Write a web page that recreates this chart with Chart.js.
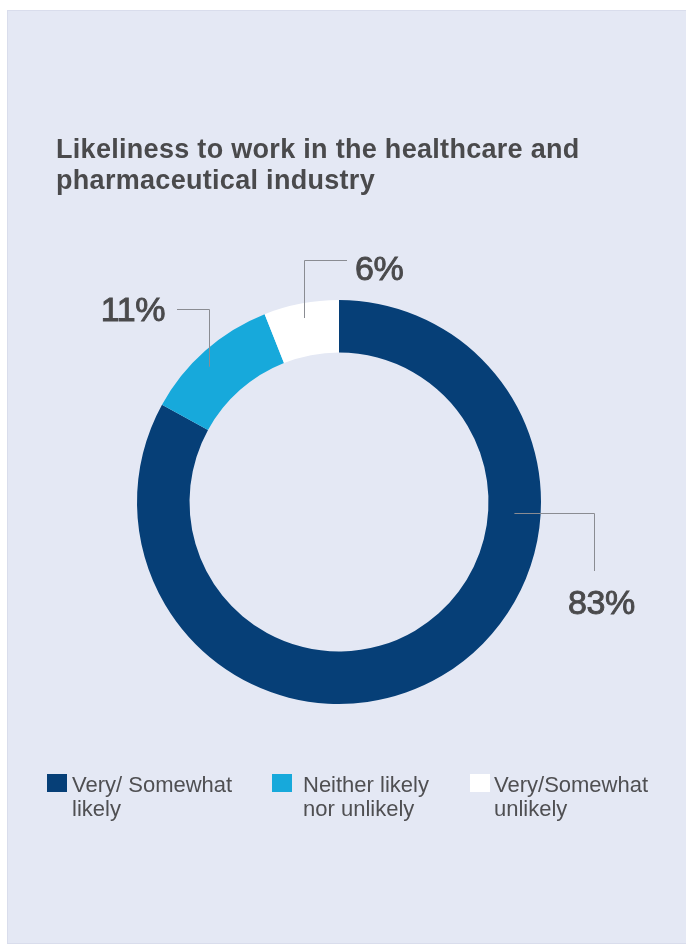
<!DOCTYPE html>
<html>
<head>
<meta charset="utf-8">
<script src="https://cdn.jsdelivr.net/npm/chart.js@4.4.0/dist/chart.umd.min.js"></script>
<style>
  html, body { margin: 0; padding: 0; background: #ffffff; }
  canvas { display: block; }
</style>
</head>
<body>
<canvas id="c" width="686" height="945"></canvas>
<script>
// ---- data ----
const titleLines = ["Likeliness to work in the healthcare and", "pharmaceutical industry"];
const categories = [["Very/ Somewhat", "likely"], ["Neither likely", "nor unlikely"], ["Very/Somewhat", "unlikely"]];
const shares = [83, 11, 6];
const valueLabels = ["83%", "11%", "6%"];
const sliceColors = ["#063f77", "#17a9db", "#ffffff"];

// ---- layout (not data) ----
const PANEL = { x: 7, y: 10, w: 679, h: 934, color: "#e4e8f4" };
const TEXT_COLOR = "#4a4a4c";
const LINE_COLOR = "#8a8c92";
// leader/label layout per slice, relative to the chart centre
const labelLayout = [
  { frac: 0.313, rfrac: 0.5,  mode: "hv", turnX: 255, endY: 69,   tx: 229, ty: 112, align: "left" },
  { frac: 0.44,  rfrac: 0.72, mode: "vh", turnY: -193, endX: -162, tx: -174, ty: -181, align: "right" },
  { frac: 0.5,   rfrac: 0.72, mode: "vh", turnY: -242, endX: 8,    tx: 16,  ty: -222, align: "left" }
];

const panelPlugin = {
  id: "panel",
  beforeDraw(chart) {
    const ctx = chart.ctx;
    ctx.save();
    ctx.fillStyle = "#ffffff";
    ctx.fillRect(0, 0, chart.width, chart.height);
    ctx.fillStyle = PANEL.color;
    ctx.fillRect(PANEL.x, PANEL.y, PANEL.w, PANEL.h);
    ctx.strokeStyle = "#d9ddec";
    ctx.lineWidth = 1;
    ctx.strokeRect(PANEL.x + 0.5, PANEL.y + 0.5, PANEL.w, PANEL.h - 1);
    // title
    ctx.fillStyle = TEXT_COLOR;
    ctx.font = "bold 27px 'Liberation Sans', Arial, sans-serif";
    ctx.letterSpacing = "0.3px";
    ctx.textBaseline = "alphabetic";
    ctx.textAlign = "left";
    titleLines.forEach((t, i) => ctx.fillText(t, 56, 158 + i * 30.5));
    ctx.restore();
  }
};

const leaderPlugin = {
  id: "leaders",
  afterDatasetsDraw(chart) {
    const ctx = chart.ctx;
    const meta = chart.getDatasetMeta(0);
    ctx.save();
    meta.data.forEach((arc, i) => {
      const p = arc.getProps(["x", "y", "startAngle", "endAngle", "innerRadius", "outerRadius"], true);
      const L = labelLayout[i];
      const a = p.startAngle + (p.endAngle - p.startAngle) * L.frac;
      const r = p.innerRadius + (p.outerRadius - p.innerRadius) * L.rfrac;
      const ax = p.x + Math.cos(a) * r;
      const ay = p.y + Math.sin(a) * r;
      ctx.strokeStyle = LINE_COLOR;
      ctx.lineWidth = 1;
      ctx.beginPath();
      if (L.mode === "hv") {
        ctx.moveTo(ax, Math.round(ay) + 0.5);
        ctx.lineTo(p.x + L.turnX + 0.5, Math.round(ay) + 0.5);
        ctx.lineTo(p.x + L.turnX + 0.5, p.y + L.endY);
      } else {
        ctx.moveTo(Math.round(ax) + 0.5, ay);
        ctx.lineTo(Math.round(ax) + 0.5, p.y + L.turnY + 0.5);
        ctx.lineTo(p.x + L.endX, p.y + L.turnY + 0.5);
      }
      ctx.stroke();
      ctx.fillStyle = TEXT_COLOR;
      ctx.strokeStyle = TEXT_COLOR;
      ctx.lineWidth = 0.9;
      ctx.font = "34px 'Liberation Sans', Arial, sans-serif";
      ctx.letterSpacing = "-0.4px";
      ctx.textAlign = L.align;
      ctx.textBaseline = "alphabetic";
      ctx.fillText(valueLabels[i], p.x + L.tx, p.y + L.ty);
      ctx.strokeText(valueLabels[i], p.x + L.tx, p.y + L.ty);
    });
    ctx.restore();
  }
};

const legendPlugin = {
  id: "customLegend",
  afterDraw(chart) {
    const ctx = chart.ctx;
    const xs = [47, 272, 470];
    const textX = [72, 303, 494];
    ctx.save();
    chart.data.labels.forEach((lbl, i) => {
      const x = xs[i];
      ctx.fillStyle = chart.data.datasets[0].backgroundColor[i];
      ctx.fillRect(x, 774, 20, 18);
      ctx.fillStyle = "#4f4f52";
      ctx.font = "22px 'Liberation Sans', Arial, sans-serif";
      ctx.textAlign = "left";
      ctx.textBaseline = "alphabetic";
      const lines = Array.isArray(lbl) ? lbl : [lbl];
      lines.forEach((t, j) => ctx.fillText(t, textX[i], 792 + j * 23.5));
    });
    ctx.restore();
  }
};

new Chart(document.getElementById("c"), {
  type: "doughnut",
  data: {
    labels: categories,
    datasets: [{
      data: shares,
      backgroundColor: sliceColors,
      borderWidth: 0,
      hoverOffset: 0
    }]
  },
  options: {
    responsive: false,
    devicePixelRatio: 1,
    animation: false,
    cutout: "74%",
    layout: { padding: { left: 137, right: 145, top: 300, bottom: 241 } },
    plugins: {
      legend: { display: false },
      title: { display: false },
      tooltip: { enabled: false }
    }
  },
  plugins: [panelPlugin, leaderPlugin, legendPlugin]
});
</script>
</body>
</html>
